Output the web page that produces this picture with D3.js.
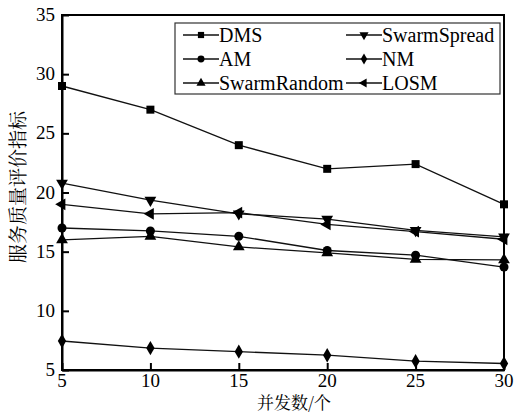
<!DOCTYPE html>
<html>
<head>
<meta charset="utf-8">
<script src="https://cdn.jsdelivr.net/npm/d3@7"></script>
</head>
<body style="margin:0">
<script>
const width = 515;
const height = 412;

const concurrency = [5, 10, 15, 20, 25, 30];
const xTicks = [5, 10, 15, 20, 25, 30];
const yTicks = [5, 10, 15, 20, 25, 30, 35];

const dms = [29.0, 27.0, 24.0, 22.0, 22.4, 19.0];
const am = [17.0, 16.75, 16.3, 15.1, 14.7, 13.7];
const swarmRandom = [16.0, 16.3, 15.4, 14.9, 14.35, 14.3];
const swarmSpread = [20.8, 19.35, 18.2, 17.75, 16.8, 16.25];
const nm = [7.45, 6.85, 6.55, 6.25, 5.75, 5.55];
const losm = [19.0, 18.2, 18.3, 17.3, 16.7, 16.05];

const seriesNames = ['DMS', 'AM', 'SwarmRandom', 'SwarmSpread', 'NM', 'LOSM'];
const seriesValues = [dms, am, swarmRandom, swarmSpread, nm, losm];

const plotLeft = 62, plotRight = 504, plotTop = 15, plotBottom = 370;

const x = d3.scaleLinear().domain([5, 30]).range([plotLeft, plotRight]);
const y = d3.scaleLinear().domain([5, 35]).range([plotBottom, plotTop]);

const svg = d3.select('body')
  .append('svg')
    .attr('width', width)
    .attr('height', height);

// text helper: family given as a single quoted name, like the font test page
function label(text, px, py, family, size, anchor) {
  return svg.append('text')
    .attr('x', px).attr('y', py)
    .attr('text-anchor', anchor)
    .attr('font-size', size)
    .style('font-family', `"${family}"`)
    .text(text);
}

// marker shape per series (type + rotation)
const markers = {
  DMS: { type: d3.symbolSquare, rot: 0, size: 64 },
  AM: { type: d3.symbolCircle, rot: 0, size: 64 },
  SwarmRandom: { type: d3.symbolTriangle, rot: 0, size: 60 },
  SwarmSpread: { type: d3.symbolTriangle, rot: 180, size: 60 },
  NM: { type: d3.symbolDiamond, rot: 0, size: 60 },
  LOSM: { type: d3.symbolTriangle, rot: -90, size: 60 }
};

function drawMarker(g, name, px, py, scale) {
  const m = markers[name];
  g.append('path')
    .attr('d', d3.symbol().type(m.type).size(m.size * scale)())
    .attr('transform', `translate(${px},${py}) rotate(${m.rot})`)
    .attr('fill', '#000');
}

// frame
svg.append('rect')
  .attr('x', plotLeft).attr('y', plotTop)
  .attr('width', plotRight - plotLeft).attr('height', plotBottom - plotTop)
  .attr('fill', 'none').attr('stroke', '#000').attr('stroke-width', 2);

// axes: inward ticks only
const yAxis = svg.append('g')
  .attr('transform', `translate(${plotLeft},0)`)
  .call(d3.axisLeft(y).tickValues(yTicks).tickSizeInner(-7).tickSizeOuter(0).tickFormat(''));

const xAxis = svg.append('g')
  .attr('transform', `translate(0,${plotBottom})`)
  .call(d3.axisBottom(x).tickValues(xTicks).tickSizeInner(-7).tickSizeOuter(0).tickFormat(''));

[xAxis, yAxis].forEach(a => {
  a.attr('font-family', null).attr('font-size', null);
  a.select('.domain').attr('stroke-width', 2);
  a.selectAll('.tick line').attr('stroke-width', 2);
  a.selectAll('.tick text').remove();
});

yTicks.forEach(t => label(t, plotLeft - 7, y(t) + 6, 'Liberation Serif', 19, 'end'));
xTicks.forEach(t => label(t, x(t), plotBottom + 17, 'Liberation Serif', 19, 'middle'));

// lines
const line = d3.line()
  .x((d, i) => x(concurrency[i]))
  .y(d => y(d));

seriesNames.forEach((name, k) => {
  svg.append('path')
    .datum(seriesValues[k])
    .attr('d', line)
    .attr('fill', 'none')
    .attr('stroke', '#111')
    .attr('stroke-width', 1.3);
  seriesValues[k].forEach((v, i) => drawMarker(svg, name, x(concurrency[i]), y(v), 1));
});

// legend
svg.append('rect')
  .attr('x', 175).attr('y', 23)
  .attr('width', 325).attr('height', 71)
  .attr('fill', '#fff').attr('stroke', '#333').attr('stroke-width', 1.2);

const legendCols = [183, 346];
seriesNames.forEach((name, k) => {
  const col = Math.floor(k / 3), row = k % 3;
  const lx = legendCols[col], ly = 35 + row * 24;
  svg.append('line')
    .attr('x1', lx).attr('x2', lx + 36)
    .attr('y1', ly).attr('y2', ly)
    .attr('stroke', '#111').attr('stroke-width', 1.3);
  drawMarker(svg, name, lx + 18, ly, 0.6);
  label(name, lx + 36, ly + 7, 'Liberation Serif', 20, 'start');
});

// axis titles
label('服务质量评价指标', 0, 0, 'Noto Serif CJK SC', 19, 'middle')
  .attr('x', null).attr('y', null)
  .attr('transform', 'translate(25,187) rotate(-90)');

label('并发数/个', 294, 409, 'Noto Serif CJK SC', 17, 'middle');
</script>
</body>
</html>
